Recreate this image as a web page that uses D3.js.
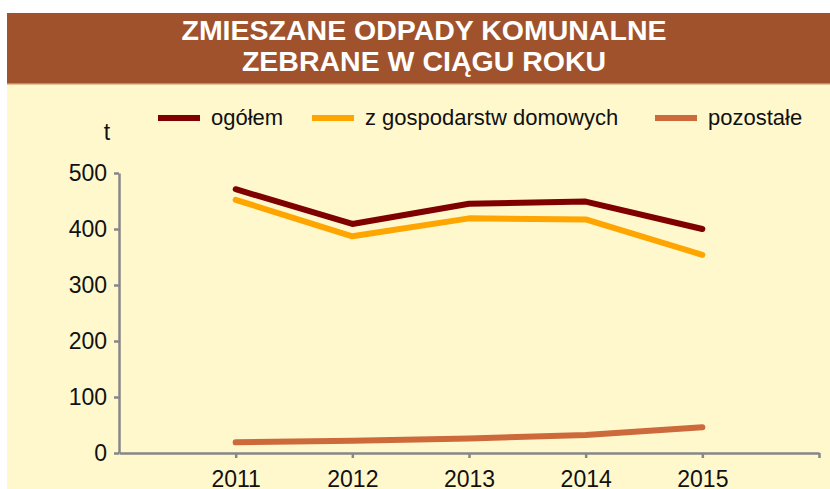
<!DOCTYPE html>
<html>
<head>
<meta charset="utf-8">
<script src="https://cdn.jsdelivr.net/npm/d3@7"></script>
<style>
  html, body { margin: 0; padding: 0; background: #fff; }
  svg { display: block; font-family: "Liberation Sans", Arial, sans-serif; }
</style>
</head>
<body>
<script>
const years = [2011, 2012, 2013, 2014, 2015]
const ogolem = [471, 409, 445, 449, 400]
const gospodarstwa = [452, 387, 419, 417, 354]
const pozostale = [19, 22, 26, 32, 46]
const yTicks = [0, 100, 200, 300, 400, 500]
const xTicks = [2011, 2012, 2013, 2014, 2015, 2016]
const titleLines = ['ZMIESZANE ODPADY KOMUNALNE', 'ZEBRANE W CIĄGU ROKU']

const series = [
  { name: 'ogółem', values: ogolem, color: '#7f0000' },
  { name: 'z gospodarstw domowych', values: gospodarstwa, color: '#ffa500' },
  { name: 'pozostałe', values: pozostale, color: '#cd6a3c' }
]

const width = 830
const height = 489

const svg = d3.select('body').append('svg')
  .attr('width', width)
  .attr('height', height)

// panel background and title band
svg.append('rect').attr('x', 7).attr('y', 84).attr('width', width - 7).attr('height', height - 84)
  .attr('fill', '#fff8cd')
svg.append('rect').attr('x', 7).attr('y', 13).attr('width', width - 7).attr('height', 70)
  .attr('fill', '#a0522d')
svg.append('rect').attr('x', 7).attr('y', 83).attr('width', width - 7).attr('height', 1.5)
  .attr('fill', '#c98a60')

svg.selectAll('text.title')
  .data(titleLines)
  .enter()
  .append('text')
  .attr('class', 'title')
  .attr('x', 424)
  .attr('y', (d, i) => 40 + i * 31)
  .attr('text-anchor', 'middle')
  .attr('fill', '#fff')
  .style('font-size', '28.5px')
  .style('font-weight', 'bold')
  .text(d => d)

const xScale = d3.scaleLinear().domain([2010, 2016]).range([119, 819])
const yScale = d3.scaleLinear().domain([0, 500]).range([453, 173])

const axisColor = '#878787'

const xAxis = d3.axisBottom(xScale)
  .tickValues(xTicks)
  .tickFormat(d => (years.includes(d) ? d : ''))
  .tickSizeInner(5)
  .tickSizeOuter(0)
  .tickPadding(13)

const yAxis = d3.axisLeft(yScale)
  .tickValues(yTicks)
  .tickSizeInner(5)
  .tickSizeOuter(0)
  .tickPadding(7)

const xAxisG = svg.append('g').attr('transform', `translate(0,${yScale(0)})`).call(xAxis)
const yAxisG = svg.append('g').attr('transform', `translate(${xScale(2010)},0)`).call(yAxis)

;[xAxisG, yAxisG].forEach(g => {
  g.select('.domain').attr('stroke', axisColor).attr('stroke-width', 2.5)
  g.selectAll('.tick line').attr('stroke', axisColor).attr('stroke-width', 2.5)
  g.selectAll('.tick text')
    .attr('fill', '#111')
    .style('font-family', '"Liberation Sans", Arial, sans-serif')
    .style('font-size', '23px')
})

// unit label
svg.append('text')
  .attr('x', 107)
  .attr('y', 140)
  .attr('text-anchor', 'middle')
  .attr('fill', '#111')
  .style('font-size', '23px')
  .text('t')

const line = d3.line()
  .x((d, i) => xScale(years[i]))
  .y(d => yScale(d))

svg.selectAll('path.series')
  .data(series.slice().reverse())
  .enter()
  .append('path')
  .attr('class', 'series')
  .attr('d', d => line(d.values))
  .attr('fill', 'none')
  .attr('stroke', d => d.color)
  .attr('stroke-width', 6)
  .attr('stroke-linecap', 'round')
  .attr('stroke-linejoin', 'round')

// legend
const legendX = [158, 312, 655]
const legend = svg.selectAll('g.legend')
  .data(series)
  .enter()
  .append('g')
  .attr('class', 'legend')
  .attr('transform', (d, i) => `translate(${legendX[i]},118)`)

legend.append('line')
  .attr('x1', 0)
  .attr('x2', 42)
  .attr('stroke', d => d.color)
  .attr('stroke-width', 6)

legend.append('text')
  .attr('x', 53)
  .attr('y', 7)
  .attr('fill', '#111')
  .style('font-size', '22px')
  .text(d => d.name)
</script>
</body>
</html>
